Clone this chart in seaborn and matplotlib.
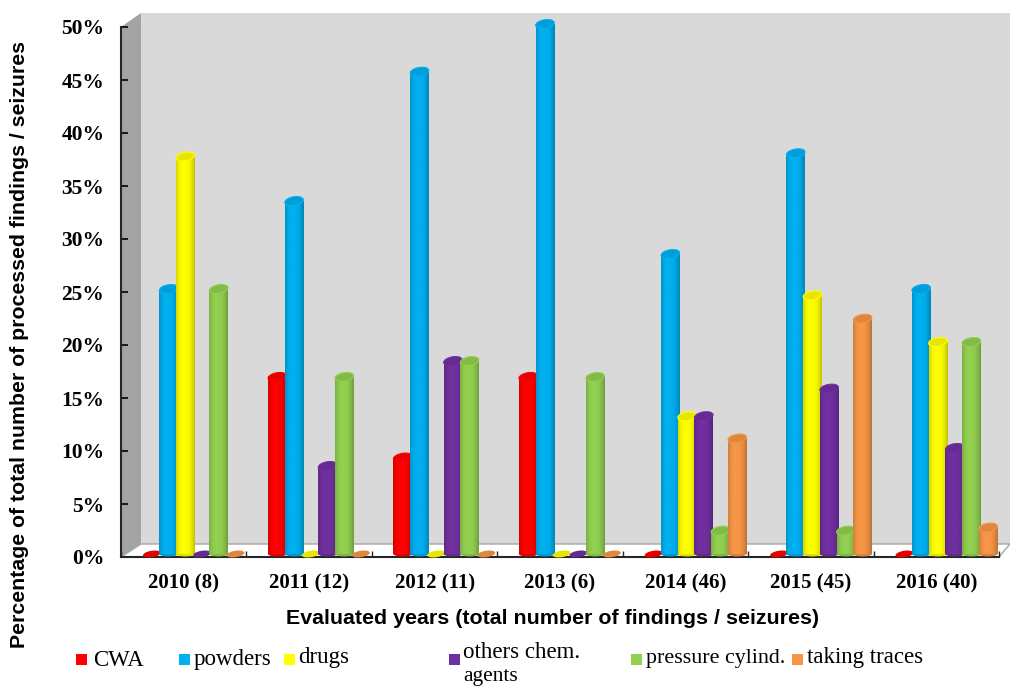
import numpy as np
import pandas as pd
import matplotlib
matplotlib.use("Agg")
import matplotlib.pyplot as plt
from matplotlib.patches import Polygon, Circle, Rectangle
from matplotlib.transforms import Affine2D, ScaledTranslation
from matplotlib.colors import to_rgb, LinearSegmentedColormap
import seaborn as sns

years = ["2010 (8)", "2011 (12)", "2012 (11)", "2013 (6)", "2014 (46)", "2015 (45)", "2016 (40)"]
cwa = [0, 16.7, 9.1, 16.7, 0, 0, 0]
powders = [25, 33.3, 45.5, 50, 28.3, 37.8, 25]
drugs = [37.5, 0, 0, 0, 13, 24.4, 20]
others = [0, 8.3, 18.2, 0, 13, 15.6, 10]
pressure = [25, 16.7, 18.2, 16.7, 2.2, 2.2, 20]
traces = [0, 0, 0, 0, 10.9, 22.2, 2.5]
series_names = ["CWA", "powders", "drugs", "others chem.\nagents", "pressure cylind.", "taking traces"]
series_values = [cwa, powders, drugs, others, pressure, traces]
colors = ["#ff0000", "#00b0f0", "#ffff00", "#7030a0", "#92d050", "#f79646"]
yticks = [0, 5, 10, 15, 20, 25, 30, 35, 40, 45, 50]

sns.set_theme(style="white")
W, H = 1010, 687
fig = plt.figure(figsize=(W / 100, H / 100), dpi=100, facecolor="white")
px = Affine2D().scale(1 / W, -1 / H).translate(0, 1) + fig.transFigure
ax = fig.add_axes([121 / W, 1 - 557 / H, 878 / W, 530 / H], facecolor="none")

# 3-D box behind the plot
fig.add_artist(Polygon([(141, 13), (1010, 13), (1010, 545), (141, 545)], closed=True,
                       facecolor="#d9d9d9", edgecolor="none", transform=px, zorder=-3))
fig.add_artist(Polygon([(121, 27), (141, 13), (141, 545), (121, 557)], closed=True,
                       facecolor="#a3a3a3", edgecolor="none", transform=px, zorder=-2))
fig.add_artist(Polygon([(121, 557), (141, 544), (1010, 544), (999, 557)], closed=True,
                       facecolor="white", edgecolor="#a6a6a6", linewidth=1, transform=px, zorder=-2))

df = pd.DataFrame({
    "year": np.tile(years, len(series_names)),
    "series": np.repeat(series_names, len(years)),
    "value": np.concatenate(series_values),
})
sns.barplot(data=df, x="year", y="value", hue="series", hue_order=series_names,
            order=years, palette=colors, saturation=1, legend=False, errorbar=None, ax=ax)

# bars sit a little behind the front axis plane
dx, dy = 10, 3
shift = Affine2D().translate(dx, dy)
bars = []
for k, cont in enumerate(ax.containers):
    for b in cont:
        bars.append((b.get_x(), b.get_width(), b.get_height(), colors[k], k))
for p in list(ax.patches):
    p.set_visible(False)

def shade(c, f):
    return tuple(min(1, v * f) for v in to_rgb(c))

def ell(xc, val, w, h, col, z, edge=None, ang=10):
    tr = (Affine2D().scale(w / 2, h / 2).rotate_deg(ang)
          + ScaledTranslation(xc, val, ax.transData)
          + Affine2D().translate(dx, dy))
    c = Circle((0, 0), 1, facecolor=col, edgecolor=edge or "none", linewidth=0.8,
               transform=tr, zorder=z, clip_on=False)
    ax.add_artist(c)

grow = 1.12
for x, w, v, col, k in sorted(bars, key=lambda t: t[0]):
    z = 5 + x
    xc = x + w / 2
    w2 = w * grow
    if v <= 0:
        ell(xc, 0, 18, 6.5, shade(col, 0.9), z, ang=9)
        continue
    grad = [0.84, 0.96, 1.0, 1.0, 0.98, 0.90, 0.76]
    cm = LinearSegmentedColormap.from_list("c", [shade(col, f) for f in grad])
    im = ax.imshow(np.linspace(0, 1, 64)[None, :], cmap=cm, aspect="auto",
                   extent=(xc - w2 / 2, xc + w2 / 2, 0, v), zorder=z, clip_on=False,
                   interpolation="bilinear")
    im.set_transform(ax.transData + shift)
    ell(xc, 0, w2 * 125.4, 5, shade(col, 0.88), z - 0.01, ang=0)
    ell(xc, v, w2 * 125.4, 8.5, shade(col, 0.9), z + 0.01, edge=shade(col, 1.0))

ax.set_xlim(-0.5, 6.5)
ax.set_ylim(0, 50)
ax.set_xlabel("")
ax.set_ylabel("")
for s in ("top", "right"):
    ax.spines[s].set_visible(False)
for s in ("left", "bottom"):
    ax.spines[s].set_color("#262626")
    ax.spines[s].set_linewidth(1.5)

serif = "Liberation Serif"
sans = "Liberation Sans"
ax.set_yticks(yticks)
ax.set_yticklabels([f"{t}%" for t in yticks], family=serif, weight="bold", fontsize=15.5, color="black")
ax.tick_params(axis="y", which="major", direction="in", length=5, width=1.2, color="black", pad=12, left=True)
ax.set_xticks(np.arange(-0.5, 7, 1))
ax.set_xticklabels([])
ax.set_xticks(np.arange(7), labels=years, minor=True, family=serif, weight="bold", fontsize=15, color="black")
ax.tick_params(axis="x", which="major", direction="in", length=4, width=1, color="#262626", bottom=True)
ax.tick_params(axis="x", which="minor", length=0, pad=12, bottom=False)

fig.text(553 / W, 1 - 618 / H, "Evaluated years (total number of findings / seizures)",
         family=sans, weight="bold", fontsize=15.4, ha="center", va="center", color="black")
fig.text(20 / W, 1 - 345 / H, "Percentage of total number of processed findings / seizures",
         family=sans, weight="bold", fontsize=15.3, rotation=90, ha="center", va="center", color="black")

# legend
sq_x = [76, 179, 284, 449, 631, 792]
txt_x = [93, 194, 298, 463, 646, 807]
txt_y = [660, 660, 658, 652, 658, 658]
txt_size = [16.5, 16.5, 16.5, 16.5, 15.8, 16.5]
for name, col, sx, tx, ty, fs in zip(series_names, colors, sq_x, txt_x, txt_y, txt_size):
    fig.add_artist(Rectangle((sx, 654), 11, 11, facecolor=col, edgecolor="none", transform=px))
    if "\n" in name:
        first, second = name.split("\n")
        fig.text(tx / W, 1 - ty / H, first, family=serif, fontsize=fs, va="center", color="black")
        fig.text(tx / W, 1 - (ty + 24) / H, second, family=serif, fontsize=15.5, va="center", color="black")
    else:
        fig.text(tx / W, 1 - ty / H, name, family=serif, fontsize=fs, va="center", color="black")

fig.savefig("out.png", dpi=100)
